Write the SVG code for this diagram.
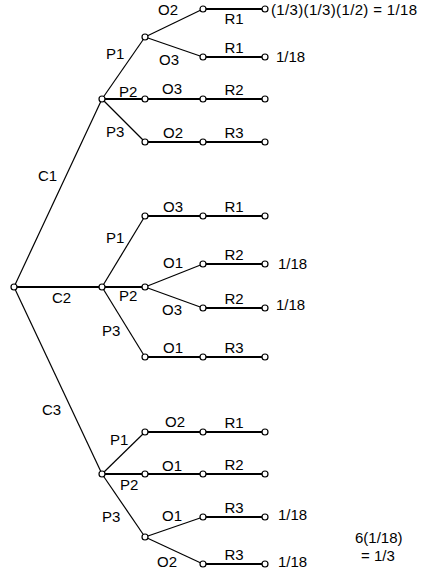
<svg xmlns="http://www.w3.org/2000/svg" width="432" height="576" viewBox="0 0 432 576">
<style>
.e{stroke:#000;fill:none;stroke-width:1.2}
.h{stroke:#000;fill:none;stroke-width:2}
.n{fill:#fff;stroke:#000;stroke-width:1.2}
text{font-family:"Liberation Sans",Arial,sans-serif;font-size:15px;fill:#000}
.m{text-anchor:middle}
</style>
<rect width="432" height="576" fill="#fff"/>
<g id="connectors">
<line class="e" x1="14" y1="287" x2="102" y2="99"/>
<line class="h" x1="14" y1="287" x2="102" y2="287"/>
<line class="e" x1="14" y1="287" x2="102" y2="474"/>
<line class="e" x1="102" y1="99" x2="145" y2="37"/>
<line class="h" x1="102" y1="99" x2="145" y2="99"/>
<line class="e" x1="102" y1="99" x2="145" y2="142"/>
<line class="e" x1="102" y1="287" x2="145" y2="216"/>
<line class="h" x1="102" y1="287" x2="145" y2="287"/>
<line class="e" x1="102" y1="287" x2="145" y2="357"/>
<line class="e" x1="102" y1="474" x2="145" y2="432"/>
<line class="h" x1="102" y1="474" x2="145" y2="474"/>
<line class="e" x1="102" y1="474" x2="145" y2="537"/>
<line class="e" x1="145" y1="37" x2="203" y2="9"/>
<line class="e" x1="145" y1="37" x2="203" y2="57"/>
<line class="h" x1="145" y1="99" x2="203" y2="99"/>
<line class="h" x1="145" y1="142" x2="203" y2="142"/>
<line class="h" x1="145" y1="216" x2="203" y2="216"/>
<line class="e" x1="145" y1="287" x2="203" y2="264"/>
<line class="e" x1="145" y1="287" x2="203" y2="308"/>
<line class="h" x1="145" y1="357" x2="203" y2="357"/>
<line class="h" x1="145" y1="432" x2="203" y2="432"/>
<line class="h" x1="145" y1="474" x2="203" y2="474"/>
<line class="e" x1="145" y1="537" x2="203" y2="517"/>
<line class="e" x1="145" y1="537" x2="203" y2="564"/>
<line class="h" x1="203" y1="9" x2="265" y2="9"/>
<line class="h" x1="203" y1="57" x2="265" y2="57"/>
<line class="h" x1="203" y1="99" x2="265" y2="99"/>
<line class="h" x1="203" y1="142" x2="265" y2="142"/>
<line class="h" x1="203" y1="216" x2="265" y2="216"/>
<line class="h" x1="203" y1="264" x2="265" y2="264"/>
<line class="h" x1="203" y1="308" x2="265" y2="308"/>
<line class="h" x1="203" y1="357" x2="265" y2="357"/>
<line class="h" x1="203" y1="432" x2="265" y2="432"/>
<line class="h" x1="203" y1="474" x2="265" y2="474"/>
<line class="h" x1="203" y1="517" x2="265" y2="517"/>
<line class="h" x1="203" y1="564" x2="265" y2="564"/>
<text x="38" y="181">C1</text>
<text x="52" y="303">C2</text>
<text x="42" y="415">C3</text>
<text x="106" y="59">P1</text>
<text x="119" y="97">P2</text>
<text x="106" y="137">P3</text>
<text x="106" y="243">P1</text>
<text x="119" y="301">P2</text>
<text x="102" y="336">P3</text>
<text x="110" y="445">P1</text>
<text x="120" y="490">P2</text>
<text x="102" y="522">P3</text>
<text x="158" y="15">O2</text>
<text x="159" y="65">O3</text>
<text x="162" y="94">O3</text>
<text x="163" y="138">O2</text>
<text x="163" y="212">O3</text>
<text x="163" y="268">O1</text>
<text x="162" y="315">O3</text>
<text x="163" y="353">O1</text>
<text x="165" y="427">O2</text>
<text x="162" y="471">O1</text>
<text x="162" y="521">O1</text>
<text x="157" y="567">O2</text>
<text class="m" x="234" y="24">R1</text>
<text class="m" x="234" y="53">R1</text>
<text class="m" x="234" y="95">R2</text>
<text class="m" x="234" y="138">R3</text>
<text class="m" x="234" y="212">R1</text>
<text class="m" x="234" y="260">R2</text>
<text class="m" x="234" y="304">R2</text>
<text class="m" x="234" y="353">R3</text>
<text class="m" x="234" y="428">R1</text>
<text class="m" x="234" y="470">R2</text>
<text class="m" x="234" y="513">R3</text>
<text class="m" x="234" y="560">R3</text>
<text x="271" y="15" textLength="146" lengthAdjust="spacing">(1/3)(1/3)(1/2) = 1/18</text>
<text x="276" y="62">1/18</text>
<text x="278" y="269">1/18</text>
<text x="276" y="310">1/18</text>
<text x="278" y="520">1/18</text>
<text x="278" y="567">1/18</text>
<text x="355" y="543">6(1/18)</text>
<text x="361" y="561">= 1/3</text>
</g>
<g id="root"><circle class="n" cx="14" cy="287" r="3"/></g>
<g id="C1"><circle class="n" cx="102" cy="99" r="3"/></g>
<g id="C2"><circle class="n" cx="102" cy="287" r="3"/></g>
<g id="C3"><circle class="n" cx="102" cy="474" r="3"/></g>
<g id="C1P1"><circle class="n" cx="145" cy="37" r="3"/></g>
<g id="C1P2"><circle class="n" cx="145" cy="99" r="3"/></g>
<g id="C1P3"><circle class="n" cx="145" cy="142" r="3"/></g>
<g id="C2P1"><circle class="n" cx="145" cy="216" r="3"/></g>
<g id="C2P2"><circle class="n" cx="145" cy="287" r="3"/></g>
<g id="C2P3"><circle class="n" cx="145" cy="357" r="3"/></g>
<g id="C3P1"><circle class="n" cx="145" cy="432" r="3"/></g>
<g id="C3P2"><circle class="n" cx="145" cy="474" r="3"/></g>
<g id="C3P3"><circle class="n" cx="145" cy="537" r="3"/></g>
<g id="C1P1O2"><circle class="n" cx="203" cy="9" r="3"/></g>
<g id="C1P1O3"><circle class="n" cx="203" cy="57" r="3"/></g>
<g id="C1P2O3"><circle class="n" cx="203" cy="99" r="3"/></g>
<g id="C1P3O2"><circle class="n" cx="203" cy="142" r="3"/></g>
<g id="C2P1O3"><circle class="n" cx="203" cy="216" r="3"/></g>
<g id="C2P2O1"><circle class="n" cx="203" cy="264" r="3"/></g>
<g id="C2P2O3"><circle class="n" cx="203" cy="308" r="3"/></g>
<g id="C2P3O1"><circle class="n" cx="203" cy="357" r="3"/></g>
<g id="C3P1O2"><circle class="n" cx="203" cy="432" r="3"/></g>
<g id="C3P2O1"><circle class="n" cx="203" cy="474" r="3"/></g>
<g id="C3P3O1"><circle class="n" cx="203" cy="517" r="3"/></g>
<g id="C3P3O2"><circle class="n" cx="203" cy="564" r="3"/></g>
<g id="C1P1O2R1"><circle class="n" cx="265" cy="9" r="3"/></g>
<g id="C1P1O3R1"><circle class="n" cx="265" cy="57" r="3"/></g>
<g id="C1P2O3R2"><circle class="n" cx="265" cy="99" r="3"/></g>
<g id="C1P3O2R3"><circle class="n" cx="265" cy="142" r="3"/></g>
<g id="C2P1O3R1"><circle class="n" cx="265" cy="216" r="3"/></g>
<g id="C2P2O1R2"><circle class="n" cx="265" cy="264" r="3"/></g>
<g id="C2P2O3R2"><circle class="n" cx="265" cy="308" r="3"/></g>
<g id="C2P3O1R3"><circle class="n" cx="265" cy="357" r="3"/></g>
<g id="C3P1O2R1"><circle class="n" cx="265" cy="432" r="3"/></g>
<g id="C3P2O1R2"><circle class="n" cx="265" cy="474" r="3"/></g>
<g id="C3P3O1R3"><circle class="n" cx="265" cy="517" r="3"/></g>
<g id="C3P3O2R3"><circle class="n" cx="265" cy="564" r="3"/></g>
</svg>
